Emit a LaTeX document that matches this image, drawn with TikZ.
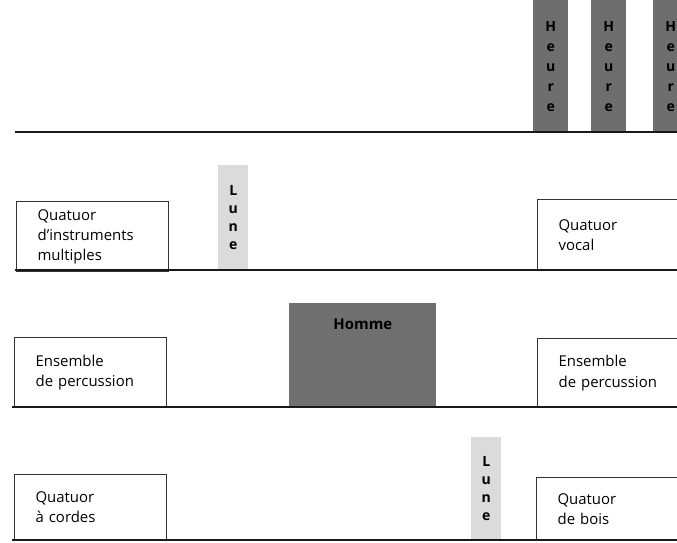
\documentclass[tikz,border=0pt]{standalone}
\usepackage{fontspec}
\setmainfont{Open Sans}
\usetikzlibrary{positioning}
\tikzset{
  groupbox/.style={rectangle, draw=black!80, line width=0.7pt, fill=white, anchor=north west,
    minimum height=1.4cm, text width=2.2cm, inner xsep=0.42cm, align=left,
    font=\fontsize{8.5}{11.4}\selectfont},
  hourbar/.style={rectangle, fill=black!57, anchor=north west, minimum width=0.7cm,
    minimum height=2.64cm, inner sep=0pt, align=center,
    font=\fontsize{8}{11.4}\selectfont\bfseries},
  moonbar/.style={rectangle, fill=black!14, anchor=north west, minimum width=0.6cm,
    inner sep=0pt, align=center, font=\fontsize{8}{10.3}\selectfont\bfseries},
  manbox/.style={rectangle, fill=black!56, anchor=north west, minimum width=2.94cm,
    minimum height=2.08cm, inner sep=0pt},
  rule/.style={line width=1.6pt, black!90},
}
\begin{document}
\begin{tikzpicture}[x=0.02cm, y=-0.02cm]
  \useasboundingbox (0,0) rectangle (677,542);
  \clip (0,0) rectangle (677,542);

  % hours at the top
  \node[hourbar] (heure1) at (533,0) {H\\e\\u\\r\\e};
  \node[hourbar] (heure2) at (591,0) {H\\e\\u\\r\\e};
  \node[hourbar] (heure3) at (653,0) {H\\e\\u\\r\\e};
  \draw[rule] (15,132) -- (677,132);

  % second level
  \node[groupbox, minimum width=3cm] (multiples) at (16,201) {Quatuor\\d'instruments\\multiples};
  \node[moonbar, minimum height=2.1cm] (lune1) at (218,165) {L\\u\\n\\e};
  \node[groupbox, minimum width=2.9cm, minimum height=1.42cm] (vocal) at (537,199) {Quatuor\\vocal};
  \draw[rule] (15,270) -- (677,270);

  % third level
  \node[groupbox, minimum width=3cm] (percL) at (14,337) {Ensemble\\de percussion};
  \node[manbox] (homme) at (289,303) {};
  \node[font=\fontsize{8.5}{10}\selectfont\bfseries, inner sep=0pt, below=0.3cm of homme.north] (hommetxt) {Homme};
  \node[groupbox, minimum width=2.9cm, minimum height=1.38cm] (percR) at (537,338) {Ensemble\\de percussion};
  \draw[rule] (12,407) -- (677,407);

  % bottom level
  \node[groupbox, minimum width=3cm, minimum height=1.32cm] (cordes) at (14,474) {Quatuor\\à cordes};
  \node[moonbar, minimum height=2.06cm] (lune2) at (471,437) {L\\u\\n\\e};
  \node[groupbox, minimum width=2.9cm, minimum height=1.26cm] (bois) at (536,477) {Quatuor\\de bois};
  \draw[rule] (12,540) -- (677,540);
\end{tikzpicture}
\end{document}
